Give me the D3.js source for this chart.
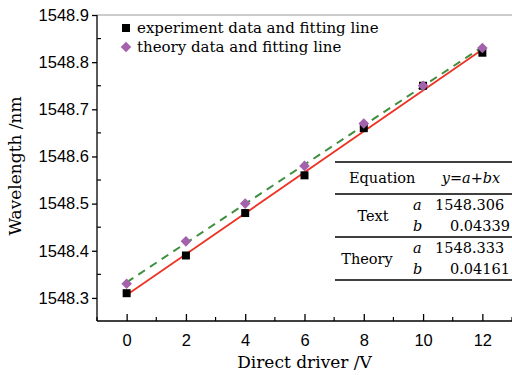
<!DOCTYPE html>
<html>
<head>
<meta charset="utf-8">
<script src="https://cdn.jsdelivr.net/npm/d3@7"></script>
<style>
  body { margin: 0; background: #fff; }
  svg { font-family: "DejaVu Serif", serif; }
  .axis path, .axis line { stroke: #000; stroke-width: 1.3; }
  .axis text { font-size: 16.5px; fill: #000; }
</style>
</head>
<body>
<div id="chart"></div>
<script>
// data
var voltage = [0, 2, 4, 6, 8, 10, 12];
var experiment = [1548.31, 1548.39, 1548.48, 1548.56, 1548.66, 1548.75, 1548.82];
var theory = [1548.33, 1548.42, 1548.50, 1548.58, 1548.67, 1548.75, 1548.83];
var expFit = {a: 1548.306, b: 0.04339};
var theoryFit = {a: 1548.333, b: 0.04161};
var xTicks = [0, 2, 4, 6, 8, 10, 12];
var yTicks = [1548.3, 1548.4, 1548.5, 1548.6, 1548.7, 1548.8, 1548.9];
var legendLabels = ["experiment data and fitting line", "theory data and fitting line"];
var tableRows = [
  {name: "Text", a: "1548.306", b: "0.04339"},
  {name: "Theory", a: "1548.333", b: "0.04161"}
];

var width = 512, height = 375;
var margin = {top: 15, right: 0, bottom: 54, left: 97};
var w = width - margin.left - margin.right;
var h = height - margin.top - margin.bottom;

var svg = d3.select("#chart").append("svg").attr("width", width).attr("height", height);
var g = svg.append("g").attr("transform", "translate(" + margin.left + "," + margin.top + ")");

var x = d3.scaleLinear().domain([-1, 13]).range([0, w]);
var y = d3.scaleLinear().domain([1548.25, 1548.9]).range([h + 0.5, 0]);

// top frame line
g.append("line").attr("x1", 0).attr("x2", w).attr("y1", 0).attr("y2", 0)
  .attr("stroke", "#999").attr("stroke-width", 1);

// minor ticks
var xMinor = d3.range(-1, 14, 1).filter(function(d) { return d % 2 != 0; });
g.selectAll(".xminor").data(xMinor).enter().append("line")
  .attr("x1", function(d) { return x(d); }).attr("x2", function(d) { return x(d); })
  .attr("y1", h).attr("y2", h - 4).attr("stroke", "#000").attr("stroke-width", 1.2);
var yMinor = [1548.35, 1548.45, 1548.55, 1548.65, 1548.75, 1548.85];
g.selectAll(".yminor").data(yMinor).enter().append("line")
  .attr("x1", 0).attr("x2", 4)
  .attr("y1", function(d) { return y(d); }).attr("y2", function(d) { return y(d); })
  .attr("stroke", "#000").attr("stroke-width", 1.2);

var xAxis = d3.axisBottom(x).tickValues(xTicks).tickSizeInner(-7).tickSizeOuter(0).tickPadding(13);
var yAxis = d3.axisLeft(y).tickValues(yTicks).tickSizeInner(5).tickSizeOuter(0).tickPadding(3)
  .tickFormat(d3.format(".1f"));
g.append("g").attr("class", "x axis").attr("transform", "translate(0," + h + ")").call(xAxis);
g.append("g").attr("class", "y axis").call(yAxis);
g.select(".x.axis .domain").attr("d", "M0,0H" + w);
g.select(".y.axis .domain").attr("d", "M0,0V" + h);

// axis titles
svg.append("text").attr("x", margin.left + x(6)).attr("y", 368)
  .attr("text-anchor", "middle").attr("font-size", 17).text("Direct driver /V");
svg.append("text").attr("transform", "translate(21," + (margin.top + y(1548.58)) + ") rotate(-90)")
  .attr("text-anchor", "middle").attr("font-size", 17).text("Wavelength /nm");

// fitting lines
var fitLine = function(f) {
  return [0, 12].map(function(v) { return [x(v), y(f.a + f.b * v)]; });
};
g.append("path").attr("d", d3.line()(fitLine(theoryFit)))
  .attr("fill", "none").attr("stroke", "#3f8f3f").attr("stroke-width", 2)
  .attr("stroke-dasharray", "8,6");
g.append("path").attr("d", d3.line()(fitLine(expFit)))
  .attr("fill", "none").attr("stroke", "#ec3324").attr("stroke-width", 1.8);

// markers
var sq = d3.symbol().type(d3.symbolSquare).size(64);
var dia = d3.symbol().type(d3.symbolSquare).size(56);
g.selectAll(".exp").data(voltage).enter().append("path")
  .attr("d", sq)
  .attr("transform", function(d, i) { return "translate(" + x(d) + "," + y(experiment[i]) + ")"; })
  .attr("fill", "#000");
g.selectAll(".theo").data(voltage).enter().append("path")
  .attr("d", dia)
  .attr("transform", function(d, i) { return "translate(" + x(d) + "," + y(theory[i]) + ") rotate(45)"; })
  .attr("fill", "#a362ab");

// legend
var legend = svg.append("g");
legend.append("path").attr("d", sq).attr("transform", "translate(126,28)").attr("fill", "#000");
legend.append("path").attr("d", dia).attr("transform", "translate(126,47) rotate(45)").attr("fill", "#a362ab");
legend.selectAll("text").data(legendLabels).enter().append("text")
  .attr("x", 137).attr("y", function(d, i) { return 33 + i * 19; })
  .attr("font-size", 15).text(function(d) { return d; });

// table
var tbl = svg.append("g").attr("font-size", 14.5);
[162, 194, 237, 280].forEach(function(yy) {
  tbl.append("line").attr("x1", 335).attr("x2", 512).attr("y1", yy).attr("y2", yy)
    .attr("stroke", "#000").attr("stroke-width", 1.6);
});
tbl.append("text").attr("x", 349).attr("y", 183).text("Equation");
tbl.append("text").attr("x", 471).attr("y", 183).attr("text-anchor", "middle")
  .attr("font-style", "italic").text("y=a+bx");
tableRows.forEach(function(r, i) {
  var y0 = 194 + i * 43;
  tbl.append("text").attr("x", i == 0 ? 373 : 367).attr("y", y0 + 27)
    .attr("text-anchor", "middle").text(r.name);
  tbl.append("text").attr("x", 413).attr("y", y0 + 16).attr("font-style", "italic").text("a");
  tbl.append("text").attr("x", 413).attr("y", y0 + 37).attr("font-style", "italic").text("b");
  tbl.append("text").attr("x", 435).attr("y", y0 + 16).text(r.a);
  tbl.append("text").attr("x", 510).attr("y", y0 + 37).attr("text-anchor", "end").text(r.b);
});
</script>
</body>
</html>
